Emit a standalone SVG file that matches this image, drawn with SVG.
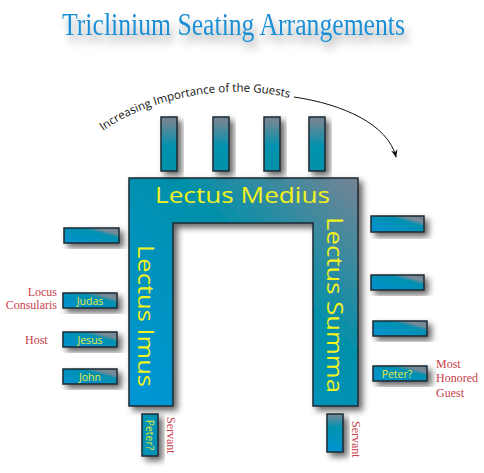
<svg xmlns="http://www.w3.org/2000/svg" width="484" height="473" viewBox="0 0 484 473">
<style>
.blk{stroke:#1b2a30;stroke-width:1.5;filter:url(#sh)}
.lec{font-family:"Open Sans","Noto Sans",sans-serif;fill:#f2f21e;font-size:22px}
.nm{font-family:"Open Sans","Noto Sans",sans-serif;fill:#e8ec3a;font-size:10.5px;text-anchor:middle}
.red{font-family:"Liberation Serif",serif;fill:#c8404c;font-size:12px}
</style>
<defs>
<filter id="sh" x="-30%" y="-30%" width="170%" height="170%">
<feDropShadow dx="4" dy="4" stdDeviation="3" flood-color="#000" flood-opacity="0.6"/>
</filter>
<filter id="tsh" x="-10%" y="-30%" width="120%" height="180%">
<feDropShadow dx="3" dy="7" stdDeviation="4" flood-color="#000" flood-opacity="0.4"/>
</filter>
<linearGradient id="gU" x1="0" y1="1" x2="1" y2="0">
<stop offset="0" stop-color="#0096d8"/>
<stop offset="0.6" stop-color="#0090aa"/>
<stop offset="1" stop-color="#768494"/>
</linearGradient>
<linearGradient id="gV" x1="0" y1="0" x2="0" y2="1">
<stop offset="0.1" stop-color="#6e8696"/>
<stop offset="0.55" stop-color="#0092ae"/>
<stop offset="1" stop-color="#0090a8"/>
</linearGradient>
<linearGradient id="gH" x1="0" y1="1" x2="1" y2="0">
<stop offset="0" stop-color="#0092d2"/>
<stop offset="0.65" stop-color="#0090b0"/>
<stop offset="0.8" stop-color="#7a8a98"/>
<stop offset="1" stop-color="#6e8090"/>
</linearGradient>
<linearGradient id="gS" x1="0" y1="0" x2="0" y2="1">
<stop offset="0" stop-color="#7a8a98"/>
<stop offset="0.35" stop-color="#0092b0"/>
<stop offset="1" stop-color="#0094d4"/>
</linearGradient>
<marker id="ah" viewBox="0 0 10 10" refX="9" refY="5" markerWidth="8" markerHeight="8" orient="auto">
<path d="M0,1 L10,5 L0,9 L3,5 Z" fill="#111"/>
</marker>
</defs>

<g id="title">
<text x="62" y="35" font-family="'Liberation Serif',serif" font-size="31" fill="#1d8fd4" textLength="343" lengthAdjust="spacingAndGlyphs" filter="url(#tsh)">Triclinium Seating Arrangements</text>
</g>

<g id="couches">
<path class="blk" fill="url(#gU)" d="M129,178 H358 V406 H313 V223 H173 V406 H129 Z"/>
<text class="lec" x="155" y="203" textLength="175" lengthAdjust="spacingAndGlyphs">Lectus Medius</text>
<text class="lec" transform="translate(138,245) rotate(90)" textLength="142" lengthAdjust="spacingAndGlyphs">Lectus Imus</text>
<text class="lec" transform="translate(327,217) rotate(90)" textLength="176" lengthAdjust="spacingAndGlyphs">Lectus Summa</text>
</g>

<g id="top-chairs">
<rect class="blk" fill="url(#gV)" x="161" y="117" width="16" height="54"/>
<rect class="blk" fill="url(#gV)" x="213" y="117" width="16" height="54"/>
<rect class="blk" fill="url(#gV)" x="264" y="117" width="16" height="54"/>
<rect class="blk" fill="url(#gV)" x="309" y="117" width="16" height="54"/>
</g>

<g id="left-chairs">
<rect class="blk" fill="url(#gH)" x="64" y="228" width="55" height="15"/>
<g id="judas"><rect class="blk" fill="url(#gH)" x="63" y="293" width="54" height="15"/><text class="nm" x="90" y="304.5">Judas</text></g>
<g id="jesus"><rect class="blk" fill="url(#gH)" x="63" y="332" width="54" height="15"/><text class="nm" x="90" y="343.5">Jesus</text></g>
<g id="john"><rect class="blk" fill="url(#gH)" x="63" y="369" width="54" height="15"/><text class="nm" x="90" y="380.5">John</text></g>
</g>

<g id="right-chairs">
<rect class="blk" fill="url(#gH)" x="371" y="216" width="53" height="16"/>
<rect class="blk" fill="url(#gH)" x="371" y="275" width="53" height="15"/>
<rect class="blk" fill="url(#gH)" x="373" y="321" width="54" height="15"/>
<g id="peter-r"><rect class="blk" fill="url(#gH)" x="373" y="366" width="54" height="15"/><text class="nm" x="397" y="377.5">Peter?</text></g>
</g>

<g id="servant-chairs">
<g id="peter-s"><rect class="blk" fill="#0092b4" x="142" y="414" width="16" height="42"/><text class="nm" transform="translate(146,435) rotate(90)">Peter?</text></g>
<rect class="blk" fill="url(#gS)" x="327" y="414" width="16" height="38"/>
</g>

<g id="labels">
<text class="red" x="57" y="296" text-anchor="end" font-size="11">Locus</text>
<text class="red" x="57" y="309" text-anchor="end" font-size="11">Consularis</text>
<text class="red" x="25" y="344">Host</text>
<text class="red" x="436" y="368">Most</text>
<text class="red" x="436" y="382">Honored</text>
<text class="red" x="436" y="397">Guest</text>
<text class="red" transform="translate(167,417) rotate(90)">Servant</text>
<text class="red" transform="translate(352,421) rotate(90)">Servant</text>
</g>

<g id="connectors">
<path id="arc" d="M103,131 C150,97 235,80 300,101" fill="none"/>
<text font-family="'Open Sans','Noto Sans',sans-serif" font-size="11.5" fill="#111"><textPath href="#arc">Increasing Importance of the Guests</textPath></text>
<path d="M294,97 C342,104 388,124 396,157" fill="none" stroke="#111" stroke-width="1" marker-end="url(#ah)"/>
</g>
</svg>
